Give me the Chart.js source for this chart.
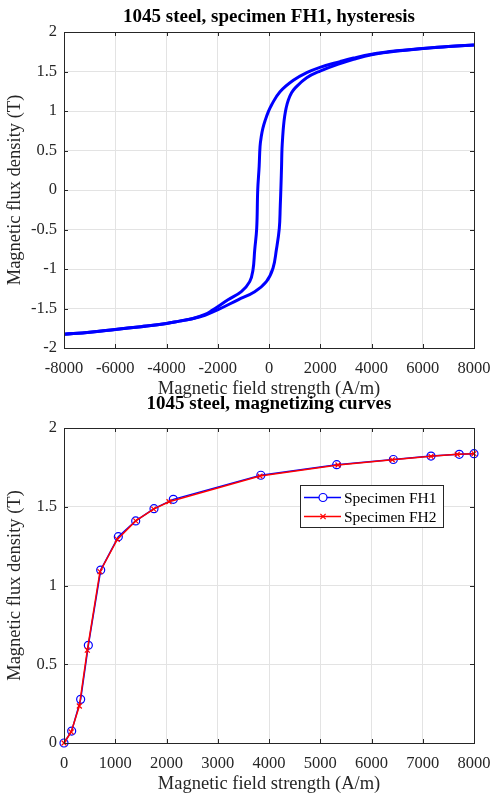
<!DOCTYPE html>
<html>
<head>
<meta charset="utf-8">
<script src="https://cdn.jsdelivr.net/npm/chart.js@4.4.1/dist/chart.umd.min.js"></script>
<style>
  body { margin: 0; background: #fff; }
  #wrap { position: relative; width: 492px; height: 795px; }
  canvas { position: absolute; left: 0; }
  #hyst { top: 0; }
  #mag { top: 390px; }
</style>
</head>
<body>
<div id="wrap">
  <canvas id="hyst" width="492" height="400"></canvas>
  <canvas id="mag" width="492" height="405"></canvas>
</div>
<script>
// hysteresis loop (H in A/m, B in T), both branches sorted by H
const ascH = [-8000,-7000,-6000,-5000,-4000,-3500,-3000,-2500,-1990,-1210,-558,-104,156,286,402,440,468,490,507,540,570,610,670,755,880,1015,1470,1990,2770,3300,4000,5000,6000,7000,8000];
const ascB = [-1.825,-1.80,-1.765,-1.73,-1.69,-1.66,-1.63,-1.585,-1.515,-1.39,-1.287,-1.16,-0.99,-0.76,-0.485,-0.2,0.06,0.3,0.52,0.70,0.82,0.93,1.04,1.14,1.23,1.29,1.42,1.505,1.60,1.655,1.712,1.76,1.79,1.815,1.835];
const descH = [-8000,-7000,-6000,-5000,-4000,-3500,-3000,-2500,-2250,-1600,-1080,-753,-624,-558,-480,-440,-384,-350,-300,-240,-150,-40,105,430,950,1470,1990,2770,3300,4000,5000,6000,7000,8000];
const descB = [-1.825,-1.80,-1.765,-1.73,-1.69,-1.66,-1.63,-1.575,-1.53,-1.39,-1.287,-1.16,-1.01,-0.76,-0.485,0.0,0.3,0.55,0.68,0.78,0.88,0.98,1.08,1.245,1.39,1.485,1.553,1.625,1.67,1.718,1.762,1.792,1.817,1.835];

// magnetizing curves
const fh1H = [0,150,325,475,716,1060,1399,1756,2133,3841,5321,6426,7161,7713,8000];
const fh1B = [0,0.076,0.277,0.62,1.098,1.31,1.41,1.488,1.547,1.70,1.767,1.80,1.822,1.833,1.837];
const fh2H = [0,140,299,455,702,1040,1399,1750,2049,3824,5346,6406,7161,7674,8000];
const fh2B = [0,0.07,0.235,0.59,1.088,1.293,1.41,1.485,1.532,1.695,1.765,1.798,1.82,1.833,1.837];

const pts = (xs, ys) => xs.map((v, i) => ({ x: v, y: ys[i] }));

Chart.defaults.font.family = "'Liberation Serif', 'Times New Roman', serif";
Chart.defaults.color = '#262626';
Chart.defaults.animation = false;

const TXT = '#262626';
const GRID = '#e3e3e3';

// MATLAB style box with inward ticks
const boxPlugin = {
  id: 'matlabBox',
  afterDraw(chart) {
    const { ctx, chartArea: a, scales: { x, y } } = chart;
    ctx.save();
    ctx.strokeStyle = TXT;
    ctx.lineWidth = 1;
    ctx.beginPath();
    x.ticks.forEach(t => {
      const px = Math.round(x.getPixelForValue(t.value)) + 0.5;
      ctx.moveTo(px, a.bottom); ctx.lineTo(px, a.bottom - 4);
      ctx.moveTo(px, a.top); ctx.lineTo(px, a.top + 4);
    });
    y.ticks.forEach(t => {
      const py = Math.round(y.getPixelForValue(t.value)) + 0.5;
      ctx.moveTo(a.left, py); ctx.lineTo(a.left + 4, py);
      ctx.moveTo(a.right, py); ctx.lineTo(a.right - 4, py);
    });
    ctx.stroke();
    ctx.strokeRect(Math.round(a.left) + 0.5, Math.round(a.top) + 0.5,
                   Math.round(a.right - a.left), Math.round(a.bottom - a.top));
    ctx.restore();
  }
};

// legend box drawn inside the plot
const legendPlugin = {
  id: 'boxLegend',
  afterDraw(chart) {
    const { ctx, chartArea: a } = chart;
    const bx = a.left + 236, by = a.top + 57, bw = 143, bh = 42;
    ctx.save();
    ctx.fillStyle = '#fff';
    ctx.fillRect(bx, by, bw, bh);
    ctx.strokeStyle = TXT;
    ctx.lineWidth = 1;
    ctx.strokeRect(Math.round(bx) + 0.5, Math.round(by) + 0.5, bw, bh);
    chart.data.datasets.forEach((ds, i) => {
      const ry = by + 12.5 + i * 19;
      ctx.strokeStyle = ds.borderColor;
      ctx.lineWidth = ds.borderWidth;
      ctx.beginPath();
      ctx.moveTo(bx + 4, ry); ctx.lineTo(bx + 41, ry);
      ctx.stroke();
      const mx = bx + 23;
      ctx.lineWidth = ds.pointBorderWidth;
      ctx.beginPath();
      if (ds.pointStyle === 'circle') {
        ctx.fillStyle = '#fff';
        ctx.arc(mx, ry, ds.pointRadius, 0, Math.PI * 2);
        ctx.fill();
      } else {
        const r = ds.pointRadius * 0.75;
        ctx.moveTo(mx - r, ry - r); ctx.lineTo(mx + r, ry + r);
        ctx.moveTo(mx - r, ry + r); ctx.lineTo(mx + r, ry - r);
      }
      ctx.stroke();
      ctx.fillStyle = '#000';
      ctx.font = "15.5px 'Liberation Serif', serif";
      ctx.textBaseline = 'middle';
      ctx.textAlign = 'left';
      ctx.fillText(ds.label, bx + 44, ry + 1);
    });
    ctx.restore();
  }
};

function axes(xMin, xMax, xStep, yMin, yMax, yStep) {
  return {
    x: {
      type: 'linear', min: xMin, max: xMax,
      afterFit: s => { s.height = 52; s.paddingLeft = 0; s.paddingRight = 18; },
      ticks: { stepSize: xStep, autoSkip: false, maxRotation: 0, padding: 11,
               color: TXT, font: { size: 16.5 }, callback: v => String(v) },
      grid: { color: GRID, drawTicks: false },
      border: { display: false },
      title: { display: true, text: 'Magnetic field strength (A/m)', color: TXT,
               font: { size: 18.5 }, padding: { top: 0, bottom: 0 } }
    },
    y: {
      min: yMin, max: yMax,
      afterFit: s => { s.width = 64; },
      ticks: { stepSize: yStep, padding: 7, color: TXT, font: { size: 16.5 },
               callback: v => String(v) },
      grid: { color: GRID, drawTicks: false },
      border: { display: false },
      title: { display: true, text: 'Magnetic flux density (T)', color: TXT,
               font: { size: 18.5 }, padding: { top: 4, bottom: 0 } }
    }
  };
}

new Chart(document.getElementById('hyst'), {
  type: 'scatter',
  data: {
    datasets: [
      { data: pts(descH, descB), borderColor: '#0000ff', borderWidth: 3, showLine: true,
        pointRadius: 0, tension: 0.4 },
      { data: pts(ascH, ascB), borderColor: '#0000ff', borderWidth: 3, showLine: true,
        pointRadius: 0, tension: 0.4 }
    ]
  },
  options: {
    responsive: false,
    layout: { padding: 0 },
    plugins: {
      legend: { display: false },
      tooltip: { enabled: false },
      title: { display: true, fullSize: false, text: '1045 steel, specimen FH1, hysteresis',
               color: '#000', font: { size: 19, weight: 'bold' },
               padding: { top: 5.6, bottom: 3.6 } }
    },
    scales: axes(-8000, 8000, 2000, -2, 2, 0.5)
  },
  plugins: [boxPlugin]
});

new Chart(document.getElementById('mag'), {
  type: 'scatter',
  data: {
    datasets: [
      { label: 'Specimen FH1', data: pts(fh1H, fh1B), borderColor: '#0000ff',
        backgroundColor: 'rgba(0,0,0,0)', borderWidth: 1.5, showLine: true,
        pointStyle: 'circle', pointRadius: 4, pointBorderWidth: 1.2, clip: false, order: 1 },
      { label: 'Specimen FH2', data: pts(fh2H, fh2B), borderColor: '#ff0000',
        backgroundColor: '#ff0000', borderWidth: 1.5, showLine: true,
        pointStyle: 'crossRot', pointRadius: 3.5, pointBorderWidth: 1.2, clip: false, order: 0 }
    ]
  },
  options: {
    responsive: false,
    layout: { padding: 0 },
    plugins: {
      legend: { display: false },
      tooltip: { enabled: false },
      title: { display: true, fullSize: false, text: '1045 steel, magnetizing curves',
               color: '#000', font: { size: 19, weight: 'bold' },
               padding: { top: 3.1, bottom: 12.1 } }
    },
    scales: axes(0, 8000, 1000, 0, 2, 0.5)
  },
  plugins: [boxPlugin, legendPlugin]
});
</script>
</body>
</html>
